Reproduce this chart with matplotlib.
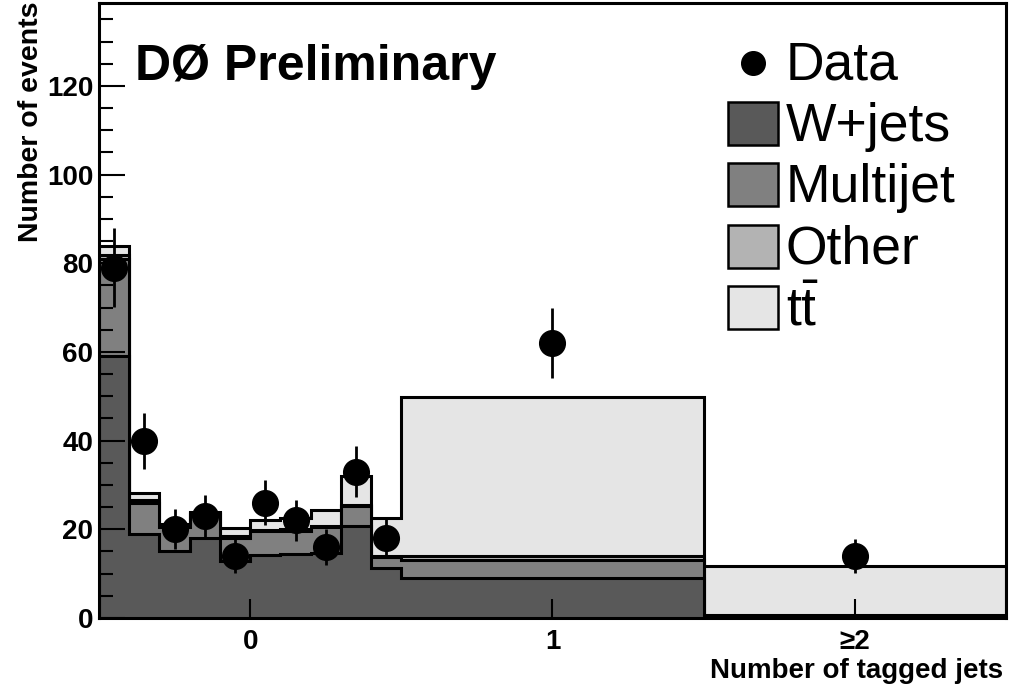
import numpy as np
import matplotlib
matplotlib.use("Agg")
import matplotlib.pyplot as plt
from matplotlib.patches import Rectangle
from matplotlib.lines import Line2D

plt.rcParams['font.family'] = ['Liberation Sans', 'DejaVu Sans']
plt.rcParams['mathtext.fontset'] = 'custom'
plt.rcParams['mathtext.rm'] = 'Liberation Sans'

# Bin edges: ten 0.1-wide bins for 0-tag, then 1 tag and >=2 tags
edges = [-0.5, -0.4, -0.3, -0.2, -0.1, 0.0, 0.1, 0.2, 0.3, 0.4, 0.5, 1.5, 2.5]

# Stacked components
wjets    = [59.1, 19.0, 15.1, 18.0, 12.9, 14.3, 14.4, 14.6, 20.8, 11.3, 9.1, 0.3]
multijet = [21.9,  7.0,  5.5,  5.4,  5.2,  5.3,  5.3,  5.9,  4.4,  2.4, 3.9, 0.1]
other    = [ 0.8,  0.6,  0.3,  0.3,  0.3,  0.3,  0.3,  0.3,  0.3,  0.3, 1.0, 0.2]
ttbar    = [ 2.0,  1.6,  0.2,  0.3,  2.0,  2.1,  2.5,  3.6,  6.5,  8.6, 35.9, 11.1]

data = [79, 40, 20, 23, 14, 26, 22, 16, 33, 18, 62, 14]

xticks = [0, 1, 2]
xticklabels = ['0', '1', '\u22652']
legend_labels = ['Data', 'W+jets', 'Multijet', 'Other', r'$\mathrm{t\bar{t}}$']
colors = ['#595959', '#808080', '#b3b3b3', '#e5e5e5']

W, H = 1012, 691


def fx(x):
    return x / W


def fy(y):
    return 1 - y / H


fig = plt.figure(figsize=(W / 100, H / 100), dpi=100)
ax = fig.add_axes([fx(99), fy(618), fx(1006) - fx(99), fy(3) - fy(618)])

edges = np.array(edges)
centers = 0.5 * (edges[:-1] + edges[1:])
layers = np.cumsum([wjets, multijet, other, ttbar], axis=0)

# ROOT-style stack: draw cumulative totals, biggest first
for vals, c in zip(layers[::-1], colors[::-1]):
    ax.stairs(vals, edges, baseline=0, fill=True, facecolor=c,
              edgecolor='black', linewidth=2.2, zorder=1)

data = np.array(data, dtype=float)
ax.errorbar(centers, data, yerr=np.sqrt(data), fmt='o', color='black',
            ms=18.5, elinewidth=2.0, capsize=0, zorder=3)

ax.set_xlim(-0.5, 2.5)
ax.set_ylim(0, 138.7)

ax.set_yticks(np.arange(0, 121, 20))
ax.set_yticks(np.arange(0, 136, 5), minor=True)
ax.set_xticks(xticks)
ax.set_xticklabels(xticklabels)
ax.tick_params(axis='y', which='major', direction='in', length=19, width=1.5,
               labelsize=20, pad=4)
ax.tick_params(axis='y', which='minor', direction='in', length=10, width=1.5)
ax.tick_params(axis='x', which='major', direction='in', length=14, width=1.5,
               labelsize=20, pad=8)
for lbl in ax.get_xticklabels() + ax.get_yticklabels():
    lbl.set_fontweight('bold')
for sp in ax.spines.values():
    sp.set_linewidth(2.2)
    sp.set_zorder(5)

fig.text(fx(31), fy(1), 'Number of events', rotation=90, ha='center', va='top',
         fontsize=20.5, fontweight='bold')
fig.text(fx(1003), fy(678), 'Number of tagged jets', ha='right', va='baseline',
         fontsize=20, fontweight='bold')
fig.text(fx(135), fy(80), 'D\u00d8 Preliminary', ha='left', va='baseline',
         fontsize=36, fontweight='bold')

# Legend
rows = [63, 124, 185, 247, 308]
fig.add_artist(Line2D([fx(753)], [fy(rows[0])], marker='o', color='black',
                      ms=17, transform=fig.transFigure))
for yc, c in zip(rows[1:], colors):
    fig.add_artist(Rectangle((fx(728), fy(yc + 21)), fx(50), 43 / H,
                             facecolor=c, edgecolor='black', linewidth=1.8,
                             transform=fig.transFigure))
for yc, lab in zip(rows, legend_labels):
    fig.text(fx(786), fy(yc + 17), lab, ha='left', va='baseline', fontsize=38.5)

fig.savefig('out.png', dpi=100)
